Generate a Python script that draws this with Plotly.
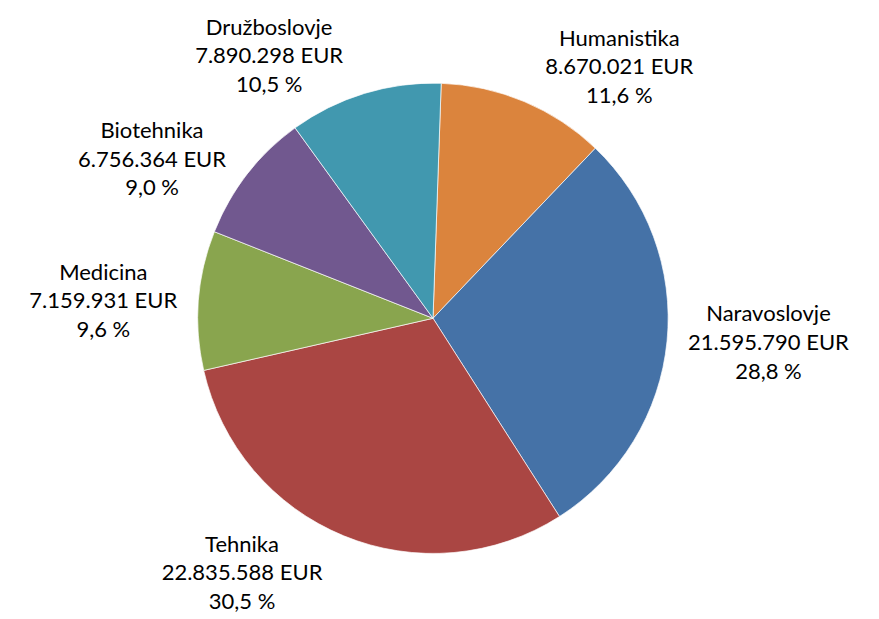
import plotly.graph_objects as go

categories = ["Humanistika", "Naravoslovje", "Tehnika", "Medicina", "Biotehnika", "Družboslovje"]
values_eur = [8670021, 21595790, 22835588, 7159931, 6756364, 7890298]
colors = ["#DB843D", "#4572A7", "#AA4643", "#89A54E", "#71588F", "#4198AF"]

total = sum(values_eur)
shares = [v / total * 100 for v in values_eur]

W, H = 879, 619
cx, cy, r = 425, 300, 243

fig = go.Figure(go.Pie(
    labels=categories,
    values=values_eur,
    customdata=shares,
    sort=False,
    direction="clockwise",
    rotation=2,
    marker=dict(colors=colors, line=dict(color="rgba(255,255,255,0.85)", width=0.8)),
    texttemplate="%{label}<br>%{value:,.0f} EUR<br>%{customdata:.1f} %",
    textposition="outside",
    textfont=dict(family="Lato", size=22, color="#000000"),
    showlegend=False,
    hoverinfo="skip",
    domain=dict(x=[(cx - r) / W, (cx + r) / W], y=[(H - cy - r) / H, (H - cy + r) / H]),
))

fig.update_layout(
    width=W, height=H,
    margin=dict(l=0, r=0, t=0, b=0),
    paper_bgcolor="white",
    plot_bgcolor="white",
    separators=",.",
    font=dict(family="Lato", size=22, color="#000000"),
)

fig.write_html("out.html")
